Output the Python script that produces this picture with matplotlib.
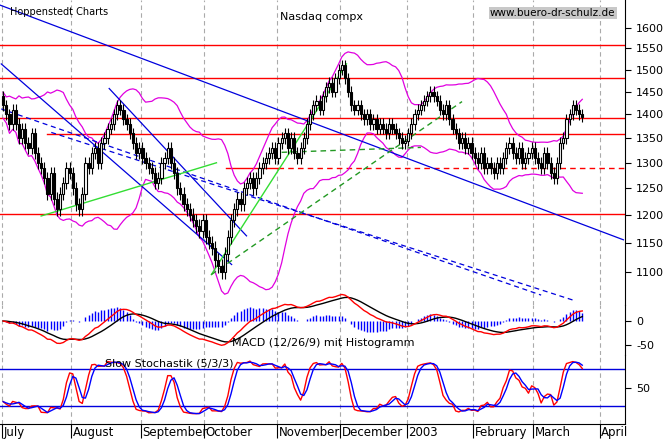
import numpy as np
import pandas as pd
import matplotlib
matplotlib.use("Agg")
import matplotlib.pyplot as plt

closes = [1420,1400,1380,1410,1380,1350,1370,1340,1330,1360,1320,1300,1290,1270,1240,1280,1230,1210,1240,1260,1290,1280,
          1250,1220,1210,1240,1300,1290,1320,1330,1300,1340,1350,1370,1380,1400,1420,1410,1390,1380,1360,1340,1320,1330,
          1310,1300,1290,1280,1260,1270,1300,1310,1330,1300,1280,1250,1240,1220,1210,1200,1190,1180,1170,1190,
          1160,1150,1140,1120,1110,1100,1130,1160,1190,1210,1230,1220,1250,1260,1270,1250,1270,1290,1300,1310,1320,1330,1310,
          1340,1350,1360,1330,1350,1320,1310,1330,1350,1380,1400,1420,1430,1410,1440,1460,1470,1450,1480,1500,
          1510,1480,1450,1420,1410,1420,1400,1390,1400,1380,1390,1370,1380,1370,1360,1380,1370,1360,1350,1340,1345,
          1360,1380,1400,1410,1420,1430,1440,1450,1440,1430,1410,1400,1420,1390,1370,1360,1340,1350,1330,1340,1320,
          1310,1300,1320,1290,1300,1290,1280,1300,1290,1310,1330,1340,1320,1310,1330,1300,1310,1320,1330,
          1310,1300,1290,1320,1300,1280,1270,1300,1340,1350,1390,1400,1420,1410,1400,1395]
first_open = 1440
month_labels = ["July","August","September","October","November","December","2003","February","March","April"]
month_days = [0, 22, 44, 64, 87, 107, 128, 149, 168, 189]
red_levels = [1558, 1480, 1393, 1201]
red_partial = (14, 1358)
red_dashed = (70.5, 1290)
main_ticks = list(range(1100, 1601, 50))
blue_lines = [((-1,1656),(196,1155)), ((-0.6,1513),(72.2,1112)), ((33.5,1457),(76.9,1162))]
blue_dashed = [((-0.6,1412),(170,1061)), ((15.2,1362),(180,1053))]
green_lines = [((12,1198),(67.4,1300)), ((65.8,1095),(108.5,1513))]
dgreen_dashed = [((65.8,1095),(145,1428)), ((88,1321),(132,1331))]

c = pd.Series(closes, dtype=float)
o = pd.Series([first_open] + closes[:-1], dtype=float)
hi = np.maximum(o, c) + 12
lo = np.minimum(o, c) - 12
n = len(c); d = np.arange(n)

W, H = 671, 442
fig = plt.figure(figsize=(W/100, H/100), dpi=100)
def ax_px(top, bot):
    return fig.add_axes([0, 1-bot/H, 625/W, (bot-top)/H])
ax = ax_px(0, 305); am = ax_px(305, 355); asx = ax_px(355, 424)
xl = (-1, 196.5)
for a in (ax, am, asx):
    a.set_xlim(*xl)
    a.patch.set_alpha(0)
    for s in ("left", "top"):
        a.spines[s].set_visible(False)
    a.spines["bottom"].set_visible(False)
    a.yaxis.tick_right()
    a.tick_params(axis="y", labelsize=8, length=4, pad=4, direction="out")
    a.set_xticks([])
    for md in month_days:
        a.axvline(md - 0.5, color="#aaaaaa", ls=(0,(4,3)), lw=0.8, zorder=0)
asx.spines["bottom"].set_visible(True)
asx.set_xticks([m - 0.5 for m in month_days])
asx.set_xticklabels([])
asx.tick_params(axis="x", length=10, direction="out")
for m, lab in zip(month_days, month_labels):
    asx.text(m, -0.03, lab, transform=asx.get_xaxis_transform(), va="top", ha="left", fontsize=8.5)

# main
ax.set_yscale("log")
ax.set_ylim(1045, 1669)
ax.set_yticks(main_ticks); ax.set_yticklabels([str(t) for t in main_ticks])
ax.minorticks_off()
for lv in red_levels:
    ax.axhline(lv, color="red", lw=1)
ax.plot([red_partial[0], xl[1]], [red_partial[1]]*2, color="red", lw=1)
ax.plot([red_dashed[0], 87], [red_dashed[1]]*2, color="red", lw=1)
ax.plot([87, xl[1]], [red_dashed[1]]*2, color="red", lw=1, ls=(0,(4,3)))
mid = c.rolling(20, min_periods=1).mean(); sd = c.rolling(20, min_periods=2).std().bfill()
for band in (mid + 2*sd, mid - 2*sd):
    ax.plot(d, band, color="#e000e0", lw=0.9)
for (p, q) in blue_lines:
    ax.plot([p[0], q[0]], [p[1], q[1]], color="#0000dd", lw=0.9)
for (p, q) in blue_dashed:
    ax.plot([p[0], q[0]], [p[1], q[1]], color="#0000dd", lw=0.9, ls=(0,(4,3)))
for (p, q) in green_lines:
    ax.plot([p[0], q[0]], [p[1], q[1]], color="#33dd33", lw=1)
for (p, q) in dgreen_dashed:
    ax.plot([p[0], q[0]], [p[1], q[1]], color="#229922", lw=1, ls=(0,(4,3)))
ax.vlines(d, lo, hi, color="black", lw=0.8, zorder=3)
bot = np.minimum(o, c); ht = np.abs(c - o)
up = c >= o
ax.bar(d[up], ht[up], bottom=bot[up], width=0.7, color="white", edgecolor="black", lw=0.8, zorder=4)
ax.bar(d[~up], ht[~up], bottom=bot[~up], width=0.7, color="black", edgecolor="black", lw=0.8, zorder=4)
ax.text(10/625, 1-12/305, "Hoppenstedt Charts", transform=ax.transAxes, fontsize=7, va="center")
ax.text(280/625, 1-17/305, "Nasdaq compx", transform=ax.transAxes, fontsize=8, va="center")
ax.text(490/625, 1-13/305, "www.buero-dr-schulz.de", transform=ax.transAxes, fontsize=7.5, va="center",
        bbox=dict(fc="#c8c8c8", ec="none", pad=1))

# MACD
macd = c.ewm(span=12, adjust=False).mean() - c.ewm(span=26, adjust=False).mean()
sig = macd.ewm(span=9, adjust=False).mean()
am.set_ylim(-70, 33)
am.set_yticks([0, -50]); am.set_yticklabels(["0", "-50"])
am.vlines(d, 0, (macd - sig)*1.5, color="#0000ff", lw=1)
am.plot(d, sig, color="black", lw=1, clip_on=False)
am.plot(d, macd, color="red", lw=1, clip_on=False)
am.text(232/625, (355-343)/50, "MACD (12/26/9) mit Histogramm", transform=am.transAxes, fontsize=8, va="center")

# Stochastic
ll = lo.rolling(8, min_periods=1).min(); hh = hi.rolling(8, min_periods=1).max()
k = (100*(c - ll)/(hh - ll)).rolling(3, min_periods=1).mean()
dd = k.rolling(3, min_periods=1).mean()
asx.set_ylim(-9, 103)
asx.set_yticks([50]); asx.set_yticklabels(["50"])
asx.axhline(80, color="#0000dd", lw=1); asx.axhline(20, color="#0000dd", lw=1)
asx.plot(d, k, color="red", lw=1)
asx.plot(d, dd, color="#0000ff", lw=1)
asx.text(105/625, 1-8/69, "Slow Stochastik (5/3/3)", transform=asx.transAxes, fontsize=8, va="center")

fig.savefig("out.png", dpi=100)
